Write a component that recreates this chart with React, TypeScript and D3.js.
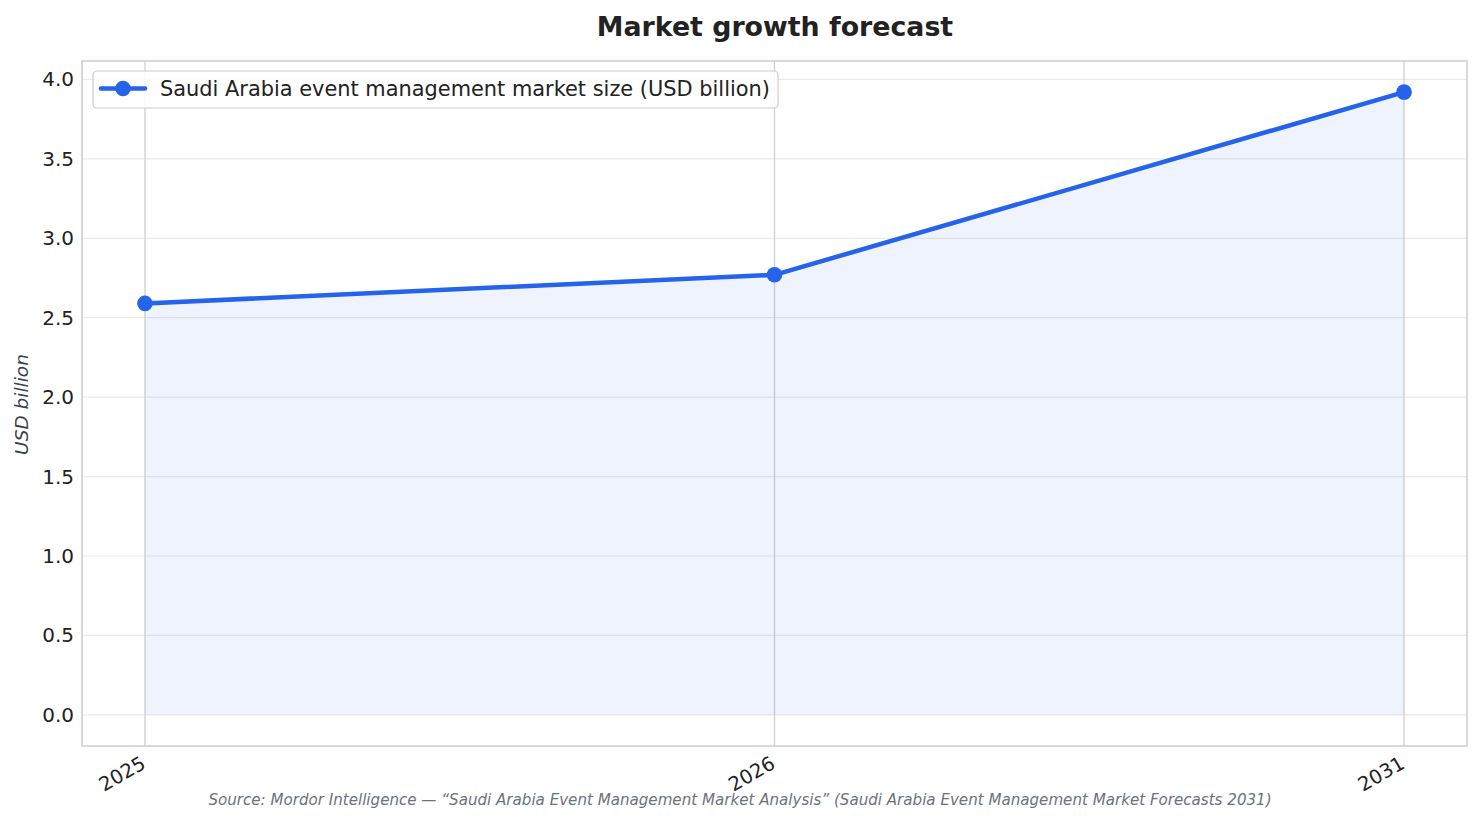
import React from "react";
import * as d3 from "d3";

const categories = ["2025", "2026", "2031"];
const values = [2.59, 2.77, 3.92];
const yTicks = [0, 0.5, 1, 1.5, 2, 2.5, 3, 3.5, 4];
const seriesName = "Saudi Arabia event management market size (USD billion)";
const title = "Market growth forecast";
const yLabel = "USD billion";
const source =
  "Source: Mordor Intelligence — “Saudi Arabia Event Management Market Analysis” (Saudi Arabia Event Management Market Forecasts 2031)";

const W = 1482;
const H = 824;
const L = 82, R = 1467, T = 61, B = 746;
const COLOR = "#2563eb";
const FONT = "DejaVu Sans, sans-serif";

export default function App() {
  const x = d3.scaleLinear().domain([-0.1, categories.length - 1 + 0.1]).range([L, R]);
  const ymax = d3.max(values)!;
  const pad = ymax * 0.05;
  const y = d3.scaleLinear().domain([-pad, ymax + pad]).range([B, T]);

  const line = d3.line<number>().x((_, i) => x(i)).y((d) => y(d));
  const area = d3.area<number>().x((_, i) => x(i)).y0(y(0)).y1((d) => y(d));

  return (
    <svg
      width={W}
      height={H}
      style={{ position: "absolute", left: 0, top: 0, background: "#fff" }}
      fontFamily={FONT}
    >
      <rect x={0} y={0} width={W} height={H} fill="#fff" />
      <text x={775} y={36} textAnchor="middle" fontSize={26.8} fontWeight="bold" fill="#222">
        {title}
      </text>
      {yTicks.map((t) => (
        <line key={"h" + t} x1={L} x2={R} y1={y(t)} y2={y(t)} stroke="#ebebeb" strokeWidth={1.2} />
      ))}
      {categories.map((c, i) => (
        <line key={"v" + c} x1={x(i)} x2={x(i)} y1={T} y2={B} stroke="#d0d0d0" strokeWidth={1.3} />
      ))}
      <path d={area(values)!} fill={COLOR} fillOpacity={0.08} />
      <path d={line(values)!} fill="none" stroke={COLOR} strokeWidth={4.5} strokeLinejoin="round" strokeLinecap="round" />
      {values.map((v, i) => (
        <circle key={i} cx={x(i)} cy={y(v)} r={7.8} fill={COLOR} />
      ))}
      <rect x={L} y={T} width={R - L} height={B - T} fill="none" stroke="#cccccc" strokeWidth={1.5} />
      {yTicks.map((t) => (
        <text key={"yt" + t} x={L - 8} y={y(t)} dy="0.35em" textAnchor="end" fontSize={20} fill="#222">
          {d3.format(".1f")(t)}
        </text>
      ))}
      {categories.map((c, i) => (
        <text
          key={"xt" + c}
          transform={`translate(${x(i) - 5},${B + 9}) rotate(-30)`}
          textAnchor="end"
          dy="0.72em"
          fontSize={19.5}
          fill="#222"
        >
          {c}
        </text>
      ))}
      <text
        transform={`translate(28,${(T + B) / 2 + 1}) rotate(-90)`}
        textAnchor="middle"
        fontSize={18.5}
        fontStyle="italic"
        fill="#374151"
      >
        {yLabel}
      </text>
      <rect x={93} y={71} width={685} height={37} rx={4} fill="#fff" fillOpacity={0.85} stroke="#cccccc" strokeWidth={1.2} />
      <line x1={101} x2={145} y1={88.5} y2={88.5} stroke={COLOR} strokeWidth={4.5} strokeLinecap="round" />
      <circle cx={123} cy={88.5} r={7.8} fill={COLOR} />
      <text x={160} y={89} dy="0.35em" fontSize={20.9} fill="#222">
        {seriesName}
      </text>
      <text x={740} y={805} textAnchor="middle" fontSize={15.1} fontStyle="italic" fill="#6b7280">
        {source}
      </text>
    </svg>
  );
}
